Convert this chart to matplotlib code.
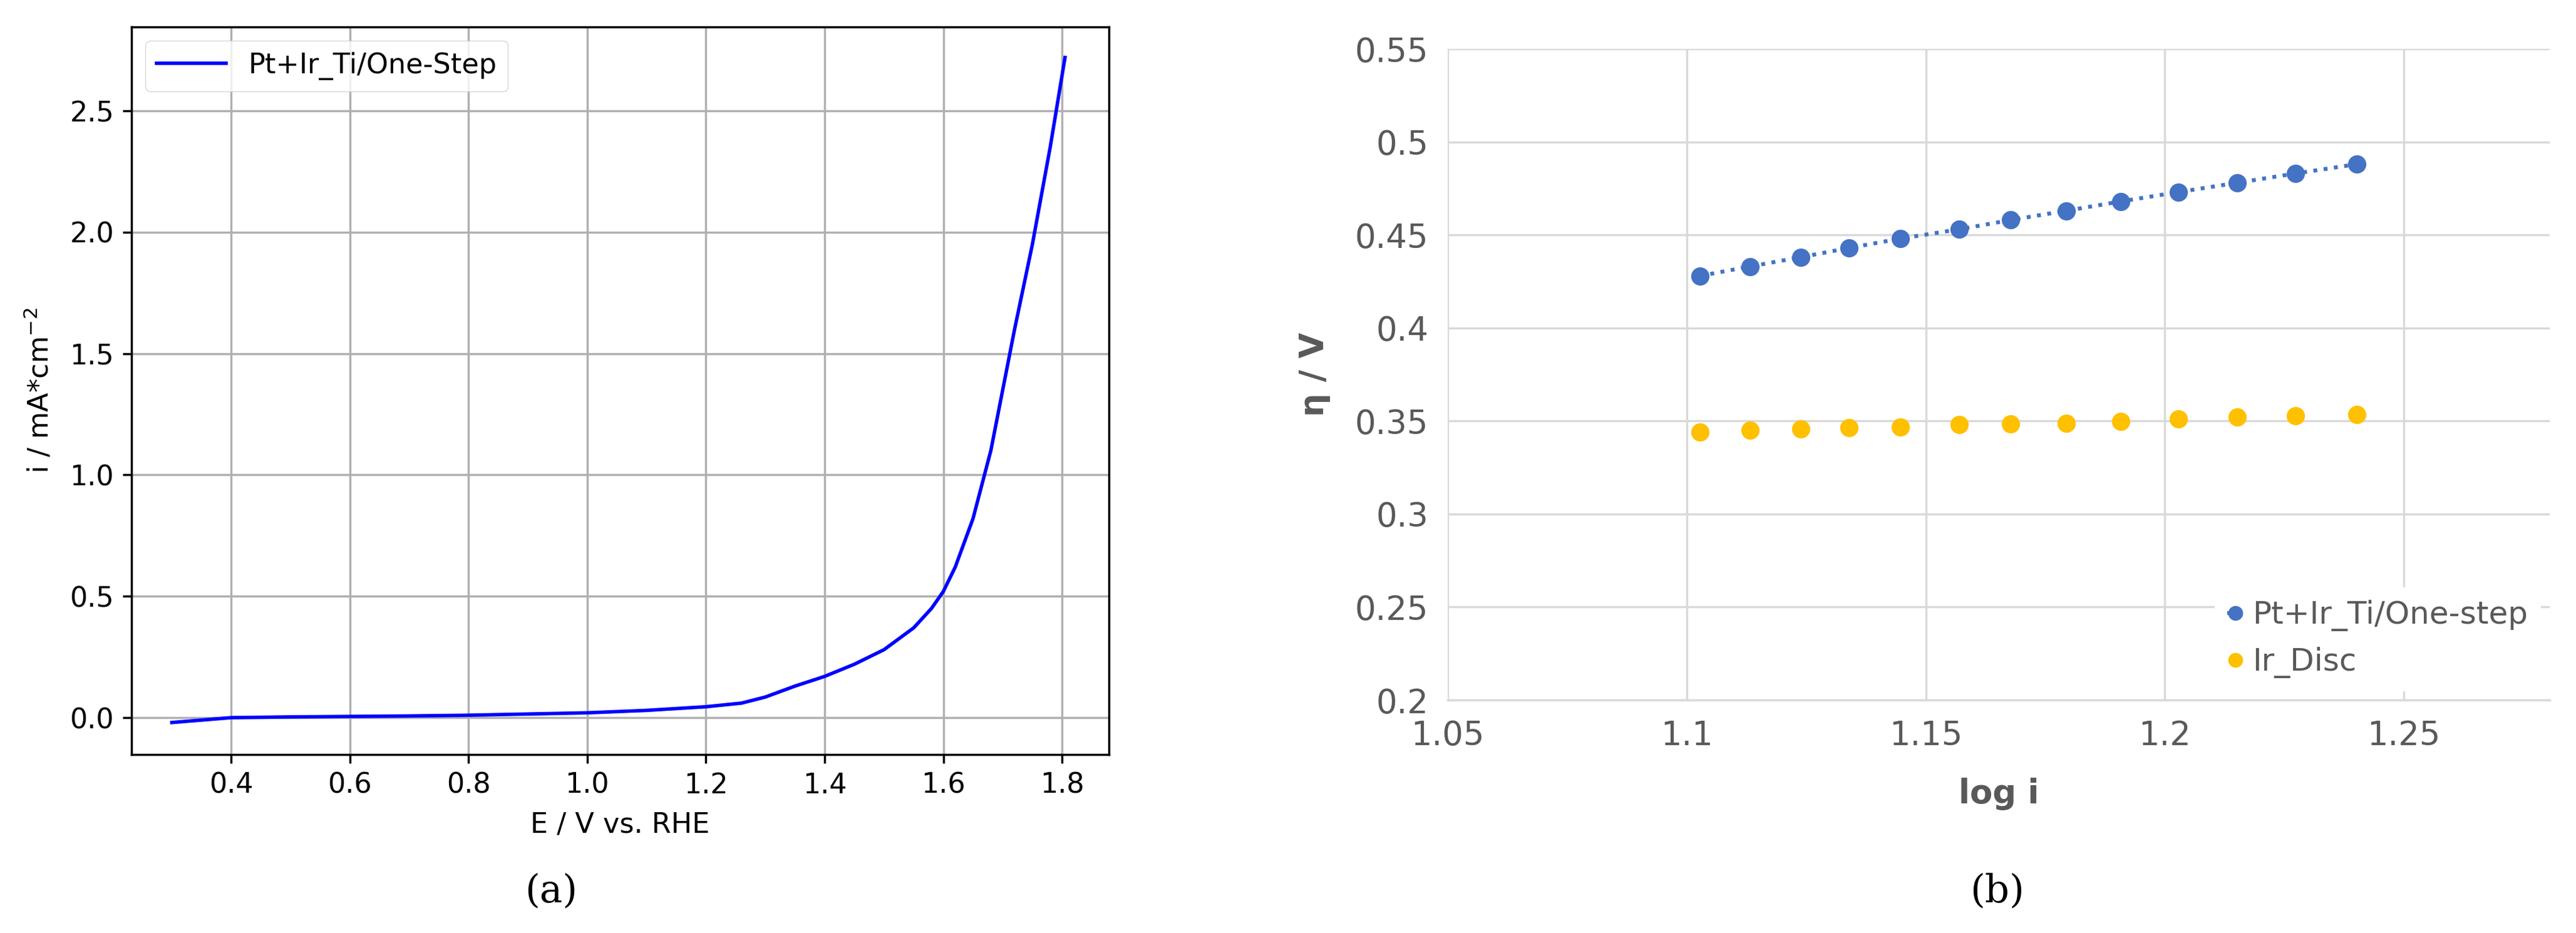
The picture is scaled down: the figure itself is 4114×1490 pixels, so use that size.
import matplotlib
matplotlib.use("Agg")
import matplotlib.pyplot as plt
import numpy as np

E = [0.30,0.40,0.50,0.60,0.70,0.80,0.90,1.00,1.10,1.20,1.26,1.30,1.35,1.40,1.45,1.50,1.55,1.58,1.60,1.62,1.65,1.68,1.70,1.72,1.75,1.78,1.805]
I = [-0.02,0.0,0.003,0.005,0.007,0.01,0.015,0.02,0.03,0.045,0.06,0.085,0.13,0.17,0.22,0.28,0.37,0.45,0.52,0.62,0.82,1.10,1.35,1.60,1.95,2.35,2.72]

logi_pt = [1.1028,1.1132,1.1238,1.1340,1.1447,1.1570,1.1678,1.1794,1.1908,1.2028,1.2151,1.2273,1.2401]
eta_pt = [0.428,0.433,0.438,0.443,0.448,0.453,0.458,0.463,0.468,0.473,0.478,0.483,0.488]
eta_ir = [0.344,0.345,0.3457,0.3464,0.3467,0.348,0.3483,0.3489,0.3499,0.3511,0.3521,0.3527,0.3534]

W, H = 4114, 1490
fig = plt.figure(figsize=(W/100, H/100), dpi=100)

def rect(x0, y0, x1, y1):
    return [x0/W, 1-y1/H, (x1-x0)/W, (y1-y0)/H]

ax1 = fig.add_axes(rect(210, 43, 1771, 1205))
ax1.plot(E, I, color='blue', lw=4, label='Pt+Ir_Ti/One-Step')
ax1.set_xlim(0.232, 1.879)
ax1.set_ylim(-0.152, 2.846)
ax1.set_xticks([0.4,0.6,0.8,1.0,1.2,1.4,1.6,1.8])
ax1.set_yticks([0.0,0.5,1.0,1.5,2.0,2.5])
ax1.grid(True, color='#b0b0b0', lw=2.5)
ax1.tick_params(labelsize=32, width=2.5, length=10, pad=10)
for s in ax1.spines.values():
    s.set_linewidth(2.5)
ax1.set_xlabel('E / V vs. RHE', fontsize=32, labelpad=14)
ax1.set_ylabel(r'i / mA*cm$^{-2}$', fontsize=32, labelpad=18)
ax1.legend(loc='upper left', fontsize=32, handlelength=2.5)
fig.text(880/W, 1-1423/H, '(a)', ha='center', va='center', fontsize=44, family='DejaVu Serif')

gray = '#595959'
ax2 = fig.add_axes(rect(2312, 78, 4072, 1118))
ax2.plot(logi_pt, eta_pt, ls=':', color='#4472C4', lw=4.5, marker='o', ms=20, label='Pt+Ir_Ti/One-step')
ax2.plot(logi_pt, eta_ir, ls='none', color='#FFC000', marker='o', ms=20, label='Ir_Disc')
ax2.set_xlim(1.05, 1.2805)
ax2.set_ylim(0.2, 0.55)
ax2.set_xticks([1.05,1.1,1.15,1.2,1.25])
ax2.set_xticklabels(['1.05','1.1','1.15','1.2','1.25'])
ax2.set_yticks([0.2,0.25,0.3,0.35,0.4,0.45,0.5,0.55])
ax2.set_yticklabels(['0.2','0.25','0.3','0.35','0.4','0.45','0.5','0.55'])
ax2.grid(True, color='#d9d9d9', lw=2.5)
ax2.set_axisbelow(True)
for k in ['top','right','left']:
    ax2.spines[k].set_visible(False)
ax2.spines['bottom'].set_color('#d9d9d9')
ax2.spines['bottom'].set_linewidth(2.5)
ax2.tick_params(length=0, labelsize=38, labelcolor=gray, pad=22)
ax2.set_xlabel('log i', fontsize=38, color=gray, fontweight='bold', labelpad=30)
ax2.set_ylabel('η / V', fontsize=38, color=gray, fontweight='bold', labelpad=28)
leg = ax2.legend(loc='lower right', fontsize=36, frameon=True, framealpha=1, edgecolor='white', fancybox=False,
                 handlelength=0.5, handletextpad=0.3, borderaxespad=0.3, markerscale=0.8)
for t in leg.get_texts():
    t.set_color(gray)
fig.text(3190/W, 1-1423/H, '(b)', ha='center', va='center', fontsize=44, family='DejaVu Serif')

fig.savefig('out.png', dpi=100)
